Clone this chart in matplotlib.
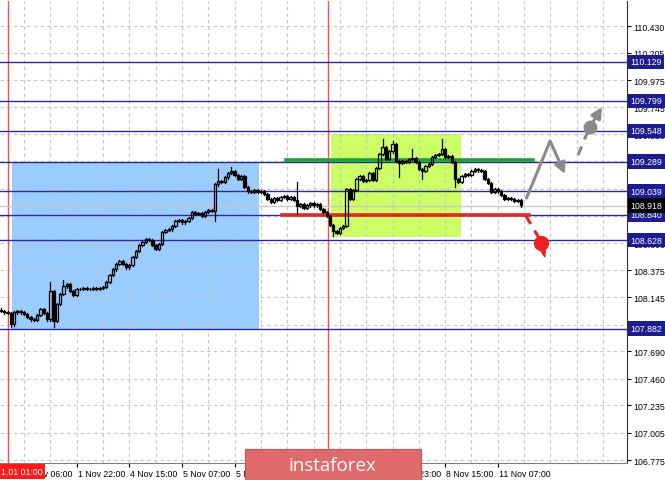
import matplotlib.pyplot as plt
from matplotlib.patches import Rectangle, Polygon
import matplotlib.transforms as mtransforms

plt.rcParams['font.family'] = ['Liberation Sans', 'DejaVu Sans']

# hourly closes, bar by bar (open = previous close)
first_open = 108.040
closes = [
    108.030, 108.021, 108.013, 107.920, 108.021, 108.030, 108.021, 108.005, 107.979, 107.962,
    107.954, 107.996, 108.047, 108.013, 107.962, 108.198, 107.946, 108.089, 108.173, 108.240,
    108.257, 108.198, 108.165, 108.215, 108.215, 108.224, 108.215, 108.215, 108.224, 108.215,
    108.224, 108.232, 108.274, 108.333, 108.383, 108.426, 108.451, 108.426, 108.400, 108.417,
    108.485, 108.535, 108.586, 108.611, 108.636, 108.628, 108.586, 108.552, 108.594, 108.695,
    108.712, 108.720, 108.746, 108.788, 108.796, 108.779, 108.788, 108.813, 108.864, 108.847,
    108.855, 108.830, 108.864, 108.880, 108.872, 109.099, 109.125, 109.116, 109.158, 109.192,
    109.209, 109.175, 109.142, 109.167, 109.074, 109.040, 109.032, 109.049, 109.032, 109.040,
    109.015, 108.973, 108.948, 108.981, 108.965, 108.990, 108.998, 108.973, 108.990, 108.965,
    108.914, 108.931, 108.897, 108.922, 108.939, 108.922, 108.931, 108.889, 108.864, 108.830,
    108.754, 108.704, 108.687, 108.729, 108.746, 109.057, 108.973, 109.049, 109.142, 109.167,
    109.125, 109.133, 109.192, 109.133, 109.234, 109.352, 109.411, 109.310, 109.377, 109.436,
    109.293, 109.276, 109.293, 109.285, 109.310, 109.318, 109.285, 109.226, 109.209, 109.251,
    109.268, 109.327, 109.344, 109.352, 109.394, 109.327, 109.335, 109.285, 109.142, 109.116,
    109.167, 109.184, 109.175, 109.209, 109.226, 109.217, 109.209, 109.142, 109.108, 109.032,
    109.057, 109.040, 109.007, 108.973, 108.981, 108.973, 108.956, 108.965, 108.922,
]
# longer shadows that stand out
highs = {15: 108.274, 19: 108.291, 66: 109.226, 70: 109.243, 90: 109.116, 116: 109.478,
         119: 109.462, 125: 109.394, 134: 109.478}
lows = {3: 107.895, 16: 107.895, 65: 108.788, 90: 108.847, 101: 108.661, 121: 109.158,
        128: 109.142, 138: 109.074}

levels = [110.129, 109.799, 109.548, 109.289, 109.039, 108.840, 108.628, 107.882]
last_price = 108.918
y_ticks = [110.430, 110.205, 109.975, 109.745, 109.520, 109.290, 109.060, 108.830, 108.600,
           108.375, 108.145, 107.915, 107.690, 107.460, 107.235, 107.005, 106.775]
x_tick_pos = [7, 23, 39, 55, 71, 87, 103, 119, 135, 151]
x_tick_labels = ['1 Nov 06:00', '1 Nov 22:00', '4 Nov 15:00', '5 Nov 07:00', '5 Nov 23:00',
                 '6 Nov 15:00', '7 Nov 07:00', '7 Nov 23:00', '8 Nov 15:00', '11 Nov 07:00']
separators = [2.1, 99.4]
blue_zone = [3.35, 78.4, 107.882, 109.289]
lime_zone = [100.3, 139.8, 108.653, 109.520]
green_seg = [86.6, 161.7, 109.300]
red_seg = [85.4, 160.5, 108.835]
up_path = [(159.6, 108.973), (166.9, 109.462), (171.4, 109.184)]
up2_dash = [(175.4, 109.344), (178.3, 109.540)]
up2_dot = (179.0, 109.580)
up2_tip = (182.7, 109.748)
down_dash = [(159.6, 108.830), (163.6, 108.640)]
down_dot = (164.1, 108.600)
down_tip = (165.3, 108.485)

FS = 6.3

fig = plt.figure(figsize=(6.65, 4.81), dpi=100)
ax = fig.add_axes([0, 17 / 481, 627 / 665, 462 / 481])
ax.set_xlim(-0.3, 190.27)
ax.set_ylim(106.750, 110.641)

# zones
ax.add_patch(Rectangle((blue_zone[0], blue_zone[2]), blue_zone[1] - blue_zone[0],
                       blue_zone[3] - blue_zone[2], color='#99ccff', lw=0, zorder=0))
ax.add_patch(Rectangle((lime_zone[0], lime_zone[2]), lime_zone[1] - lime_zone[0],
                       lime_zone[3] - lime_zone[2], color='#ccff66', lw=0, zorder=0))

# grid
for p in range(7, 191, 8):
    ax.axvline(p, color='#c4c4c4', lw=0.8, ls=(0, (3, 3)), zorder=1)
for t in y_ticks:
    ax.axhline(t, color='#c4c4c4', lw=0.8, ls=(0, (3, 3)), zorder=1)
for s in separators:
    ax.axvline(s, color='#ff4d4d', lw=1, zorder=2)

# levels
for lv in levels:
    ax.axhline(lv, color='#2a2a9c', lw=1, zorder=2)
ax.axhline(last_price, color='#c8c8c8', lw=1, zorder=2)

ax.plot(green_seg[:2], [green_seg[2]] * 2, color='#1f9e3a', lw=2.6, zorder=3)
ax.plot(red_seg[:2], [red_seg[2]] * 2, color='#ee2020', lw=2.6, zorder=3)

# candles
o = first_open
for i, c in enumerate(closes):
    top, bot = max(o, c), min(o, c)
    hi = highs.get(i, top + 0.012)
    lo = lows.get(i, bot - 0.012)
    ax.plot([i, i], [top, hi], color='black', lw=0.9, zorder=4)
    ax.plot([i, i], [lo, bot], color='black', lw=0.9, zorder=4)
    h = max(top - bot, 0.003)
    ax.add_patch(Rectangle((i - 0.36, bot), 0.72, h, facecolor='black' if c < o else 'none',
                           edgecolor='black', lw=0.9, zorder=4))
    o = c

# forecast arrows
gray = '#8a8a8a'
ax.plot([up_path[0][0], up_path[1][0]], [up_path[0][1], up_path[1][1]], color=gray, lw=2.2,
        solid_capstyle='butt', zorder=5)
ax.annotate('', xy=up_path[2], xytext=up_path[1],
            arrowprops=dict(arrowstyle='-|>', color=gray, lw=2.2, mutation_scale=16,
                            shrinkA=0, shrinkB=0), zorder=5)
ax.plot([p[0] for p in up2_dash], [p[1] for p in up2_dash], color=gray, lw=2.2,
        ls=(0, (3, 2.5)), zorder=5)
ax.plot(*up2_dot, 'o', color=gray, ms=9, zorder=5)
ax.annotate('', xy=up2_tip, xytext=up2_dot,
            arrowprops=dict(arrowstyle='-|>', color=gray, lw=2.2, mutation_scale=16,
                            shrinkA=0, shrinkB=0), zorder=5)
red = '#ee2020'
ax.plot([p[0] for p in down_dash], [p[1] for p in down_dash], color=red, lw=2.2,
        ls=(0, (3, 2.5)), zorder=5)
ax.plot(*down_dot, 'o', color=red, ms=10, zorder=5)
ax.add_patch(Polygon([(down_dot[0] - 1.45, down_dot[1]), (down_dot[0] + 1.45, down_dot[1]),
                      down_tip], color=red, zorder=5))

# axes styling
for side in ['left', 'top']:
    ax.spines[side].set_visible(False)
ax.spines['right'].set_color('#303030')
ax.spines['bottom'].set_color('#808080')
ax.yaxis.tick_right()
ax.set_yticks(y_ticks)
ax.set_yticklabels([f'{t:.3f}' for t in y_ticks])
ax.tick_params(axis='y', length=3, width=0.8, labelsize=FS, pad=1.5, colors='black')
ax.set_xticks(x_tick_pos)
ax.set_xticklabels(x_tick_labels, ha='left')
ax.tick_params(axis='x', length=3, width=0.8, labelsize=FS, pad=1.5)
offset = mtransforms.ScaledTranslation(1.0 / 100, 0, fig.dpi_scale_trans)
for lab in ax.get_xticklabels():
    lab.set_transform(lab.get_transform() + offset)

# level labels on the price scale
trans = mtransforms.blended_transform_factory(ax.transAxes, ax.transData)
for lv in levels:
    ax.text(1.005, lv, f'{lv:.3f}', transform=trans, ha='left', va='center', fontsize=FS,
            color='white', zorder=10, clip_on=False,
            bbox=dict(boxstyle='square,pad=0.3', fc='#1c1c8e', ec='none'))
ax.text(1.005, last_price, f'{last_price:.3f}', transform=trans, ha='left', va='center',
        fontsize=FS, color='white', zorder=10, clip_on=False,
        bbox=dict(boxstyle='square,pad=0.3', fc='black', ec='none'))

# time label of the separator
fig.text(1 / 665, 8.5 / 481, '1.01 01:00', fontsize=FS, color='white', ha='left', va='center',
         zorder=15, bbox=dict(boxstyle='square,pad=0.3', fc='#ff1a1a', ec='none'))

# banner
fig.patches.append(Rectangle((245 / 665, 0), 176 / 665, 31 / 481, transform=fig.transFigure,
                             facecolor='#e06b6d', edgecolor='#c95558', lw=0.8, zorder=20))
fig.text(332 / 665, 15 / 481, 'instaforex', fontsize=13.5, color='white', ha='center',
         va='center', family=['Open Sans', 'DejaVu Sans'], zorder=21)

fig.savefig('out.png', dpi=100)
